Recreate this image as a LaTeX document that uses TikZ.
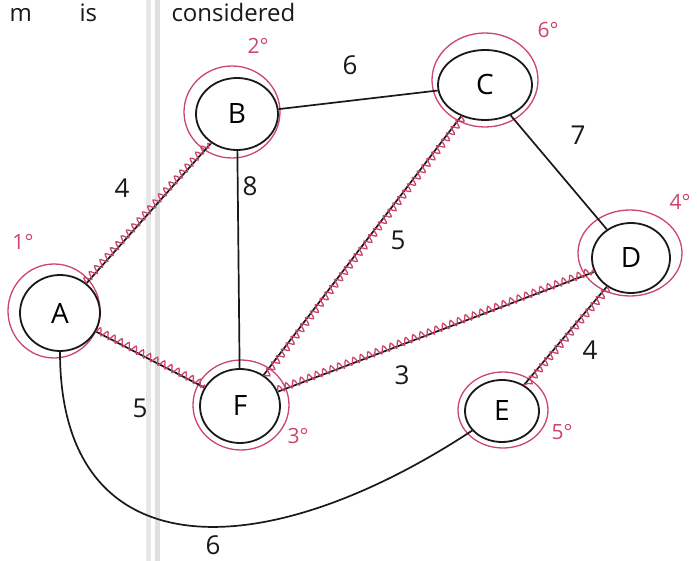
\documentclass[tikz,border=0pt]{standalone}
\usepackage{fontspec}
\setmainfont{Open Sans}
\usetikzlibrary{decorations.pathmorphing,shapes.geometric}
\definecolor{inkred}{RGB}{204,70,105}
\definecolor{ink}{RGB}{25,25,25}
\definecolor{margin}{RGB}{215,215,215}
\tikzset{
  vertex/.style 2 args={ellipse,draw=ink,line width=1.8pt,minimum width=#1,minimum height=#2,inner sep=0pt,font=\fontsize{28}{28}\selectfont},
  ring/.style={draw=inkred,line width=1.3pt},
  edge/.style={draw=ink,line width=1.7pt},
  mst/.style={draw=inkred,line width=1.3pt,decorate,decoration={snake,segment length=8pt,amplitude=3.5pt,raise=2pt}},
  wlab/.style={font=\fontsize{26}{26}\selectfont,text=ink},
  olab/.style={font=\fontsize{21}{21}\selectfont,text=inkred},
  toptext/.style={font=\fontsize{24}{24}\selectfont,text=ink,anchor=base west}
}
\begin{document}
\begin{tikzpicture}[x=1pt,y=-1pt]
\useasboundingbox (0,0) rectangle (697,561);
\fill[white] (0,0) rectangle (697,561);
% notebook margin
\fill[margin!60] (146,0) rectangle (151,561);
\fill[margin!80] (155,0) rectangle (160,561);
% partly visible text at top
\node[toptext] (top1) at (6,22) {m};
\node[toptext] (top2) at (76,22) {is};
\node[toptext] (top3) at (168,22) {considered};
% red rings
\draw[ring] (54,311) circle [x radius=46,y radius=47];
\draw[ring] (232,112) circle [x radius=48,y radius=46];
\draw[ring] (485,80) circle [x radius=53,y radius=47];
\draw[ring] (630,253) circle [x radius=52,y radius=43];
\draw[ring] (503,410) circle [x radius=45,y radius=38];
\draw[ring] (241,405) circle [x radius=48,y radius=45];
% vertices
\node[vertex={80pt}{76pt}] (A) at (60,313) {A};
\node[vertex={82pt}{72pt}] (B) at (237,114) {B};
\node[vertex={94pt}{70pt}] (C) at (485,85) {C};
\node[vertex={78pt}{70pt}] (D) at (631,258) {D};
\node[vertex={74pt}{62pt}] (E) at (502,411) {E};
\node[vertex={80pt}{74pt}] (F) at (240,406) {F};
% order labels
\node[olab] (oA) at (23,242) {1°};
\node[olab] (oB) at (258,46) {2°};
\node[olab] (oC) at (548,30) {6°};
\node[olab] (oD) at (680,202) {4°};
\node[olab] (oE) at (562,432) {5°};
\node[olab] (oF) at (298,436) {3°};
% plain edges
\draw[edge] (B) -- (C);
\draw[edge] (B) -- (F);
\draw[edge] (C) -- (D);
\draw[edge] (A) .. controls (60,570) and (260,570) .. (E);
% tree edges
\draw[edge] (A) -- (B);
\draw[edge] (A) -- (F);
\draw[edge] (C) -- (F);
\draw[edge] (F) -- (D);
\draw[edge] (D) -- (E);
\path[mst] (A) -- (B);
\path[mst] (A) -- (F);
\path[mst] (C) -- (F);
\path[mst] (F) -- (D);
\path[mst] (D) -- (E);
% weights
\node[wlab] (wAB) at (122,188) {4};
\node[wlab] (wAF) at (140,408) {5};
\node[wlab] (wAE) at (213,545) {6};
\node[wlab] (wBC) at (350,65) {6};
\node[wlab] (wBF) at (250,186) {8};
\node[wlab] (wCF) at (398,240) {5};
\node[wlab] (wCD) at (578,135) {7};
\node[wlab] (wFD) at (402,375) {3};
\node[wlab] (wDE) at (590,350) {4};
\end{tikzpicture}
\end{document}
